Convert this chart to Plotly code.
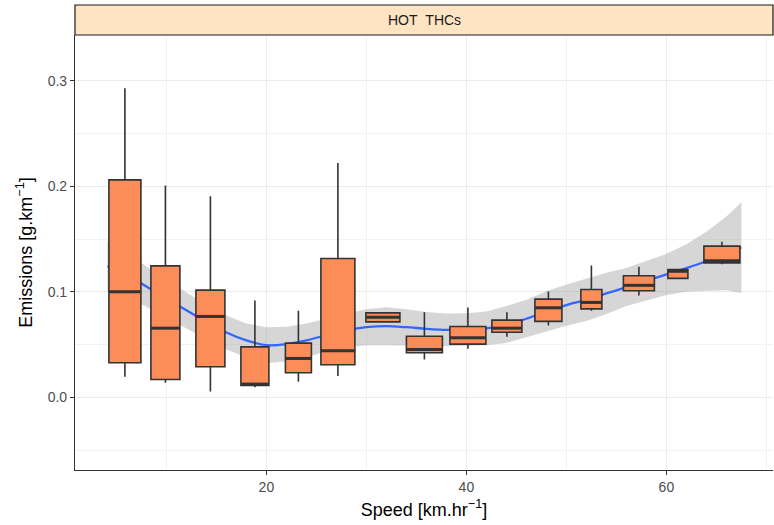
import plotly.graph_objects as go

# ---- data ----
box_x = [5.85, 9.9, 14.4, 18.85, 23.2, 27.15, 31.65, 35.8, 40.15, 44.05, 48.2, 52.5, 57.25, 61.15, 65.55]
box_w = [3.2, 2.9, 2.9, 2.8, 2.6, 3.4, 3.4, 3.6, 3.6, 3.0, 2.7, 2.1, 3.1, 2.0, 3.6]
upper = [0.2929, 0.2007, 0.1906, 0.0918, 0.0820, 0.2222, 0.0801, 0.0808, 0.0852, 0.0808, 0.1004, 0.1250, 0.1237, 0.1215, 0.1474]
q3 = [0.2061, 0.1246, 0.1016, 0.0479, 0.0514, 0.1316, 0.0801, 0.0580, 0.0672, 0.0732, 0.0931, 0.1023, 0.1152, 0.1212, 0.1433]
median = [0.1000, 0.0656, 0.0767, 0.0126, 0.0369, 0.0441, 0.0760, 0.0455, 0.0565, 0.0656, 0.0849, 0.0900, 0.1062, 0.1195, 0.1294]
q1 = [0.0328, 0.0170, 0.0290, 0.0114, 0.0233, 0.0309, 0.0716, 0.0423, 0.0505, 0.0618, 0.0720, 0.0839, 0.1010, 0.1128, 0.1275]
lower = [0.0195, 0.0138, 0.0057, 0.0095, 0.0148, 0.0202, 0.0716, 0.0360, 0.0460, 0.0574, 0.0682, 0.0820, 0.0966, 0.1125, 0.1262]

smooth_x = [4.1, 6, 8, 10, 12, 14, 16, 18, 20, 22, 24, 26, 28, 30, 32, 34, 36, 38, 40, 42,
            44, 46, 48, 50, 52, 54, 56, 58, 60, 62, 64, 66, 67.5]
smooth_fit = [0.1243, 0.1165, 0.1050, 0.0935, 0.0825, 0.0715, 0.0615, 0.0540, 0.0495, 0.0505,
              0.0540, 0.0590, 0.0635, 0.0665, 0.0675, 0.0665, 0.0650, 0.0640, 0.0643, 0.0655,
              0.0690, 0.0745, 0.0815, 0.0875, 0.0925, 0.0985, 0.1045, 0.1105, 0.1165, 0.1225,
              0.1290, 0.1365, 0.1420]
smooth_hw = [0.024, 0.021, 0.019, 0.018, 0.017, 0.0165, 0.016, 0.016, 0.017, 0.0165,
             0.016, 0.0155, 0.016, 0.017, 0.018, 0.017, 0.016, 0.0155, 0.0155, 0.016,
             0.0175, 0.018, 0.019, 0.0195, 0.020, 0.0195, 0.018, 0.0185, 0.0195, 0.0225,
             0.028, 0.035, 0.043]

x_ticks = [20, 40, 60]
y_ticks = [0.0, 0.1, 0.2, 0.3]
y_tick_text = ["0.0", "0.1", "0.2", "0.3"]
strip_label = "HOT\u00a0\u00a0THCs"

FONT = "Liberation Sans, Arial, Helvetica, sans-serif"
BOX_FILL = "#FC8D59"
DARK = "#333333"
X_RANGE = [0.86, 70.66]
Y_RANGE = [-0.0688, 0.3434]

fig = go.Figure()

# confidence ribbon
hi = [f + h for f, h in zip(smooth_fit, smooth_hw)]
lo = [f - h for f, h in zip(smooth_fit, smooth_hw)]
fig.add_trace(go.Scatter(
    x=smooth_x + smooth_x[::-1], y=hi + lo[::-1],
    fill="toself", fillcolor="rgba(153,153,153,0.4)",
    line=dict(width=0), mode="lines",
    hoverinfo="skip", showlegend=False))
# smooth line
fig.add_trace(go.Scatter(
    x=smooth_x, y=smooth_fit, mode="lines",
    line=dict(color="#3366FF", width=2.3, shape="spline", smoothing=0.8),
    showlegend=False))

# boxes (on an overlaying axis pair so they sit above the smooth)
for i in range(len(box_x)):
    fig.add_trace(go.Box(
        x=[box_x[i]], q1=[q1[i]], median=[median[i]], q3=[q3[i]],
        lowerfence=[lower[i]], upperfence=[upper[i]],
        width=box_w[i], whiskerwidth=0,
        fillcolor=BOX_FILL, line=dict(color=DARK, width=1.6),
        boxpoints=False, showlegend=False, xaxis="x2", yaxis="y2"))

# thicker median bars
mx, my = [], []
for c, w, m in zip(box_x, box_w, median):
    mx += [c - w / 2, c + w / 2, None]
    my += [m, m, None]
fig.add_trace(go.Scatter(x=mx, y=my, mode="lines",
                         line=dict(color=DARK, width=3), showlegend=False,
                         hoverinfo="skip", xaxis="x2", yaxis="y2"))

# facet strip
strip_h = 30 / 435
fig.add_shape(type="rect", xref="paper", yref="paper",
              x0=0, x1=1, y0=1, y1=1 + strip_h,
              fillcolor="#FFE4C4", line=dict(color="#1A1A1A", width=1.2))
fig.add_annotation(xref="paper", yref="paper", x=0.5, y=1 + strip_h / 2,
                   text=strip_label, showarrow=False,
                   font=dict(family=FONT, size=14, color="#1A1A1A"),
                   xanchor="center", yanchor="middle")

grid = dict(showgrid=True, gridcolor="#EBEBEB", gridwidth=1.1)
fig.update_layout(
    xaxis=dict(
        range=X_RANGE, tickvals=x_ticks, ticktext=[str(v) for v in x_ticks],
        ticks="outside", ticklen=4, tickwidth=1, tickcolor=DARK,
        showline=True, linecolor=DARK, linewidth=1.1, zeroline=False,
        tickfont=dict(family=FONT, size=14, color="#4D4D4D"),
        minor=dict(tickvals=[10, 30, 50, 70], showgrid=True, gridcolor="#F2F2F2", gridwidth=0.6, ticks=""),
        title=dict(text="Speed [km.hr<sup>−1</sup>]", font=dict(family=FONT, size=18, color="#000000"),
                   standoff=9),
        **grid),
    yaxis=dict(
        range=Y_RANGE, tickvals=y_ticks, ticktext=y_tick_text,
        ticks="outside", ticklen=4, tickwidth=1, tickcolor=DARK,
        showline=True, linecolor=DARK, linewidth=1.1, zeroline=False,
        tickfont=dict(family=FONT, size=14, color="#4D4D4D"),
        minor=dict(tickvals=[-0.05, 0.05, 0.15, 0.25], showgrid=True, gridcolor="#F2F2F2", gridwidth=0.6, ticks=""),
        title=dict(text="Emissions [g.km<sup>−1</sup>]", font=dict(family=FONT, size=18, color="#000000"),
                   standoff=10),
        **grid),
    xaxis2=dict(range=X_RANGE, overlaying="x", visible=False, showgrid=False, zeroline=False),
    yaxis2=dict(range=Y_RANGE, overlaying="y", visible=False, showgrid=False, zeroline=False),
    width=774, height=525,
    margin=dict(l=75, r=1, t=35, b=55, autoexpand=False),
    paper_bgcolor="white", plot_bgcolor="white",
    boxmode="overlay", showlegend=False,
    font=dict(family=FONT),
)

fig.write_html("out.html")
